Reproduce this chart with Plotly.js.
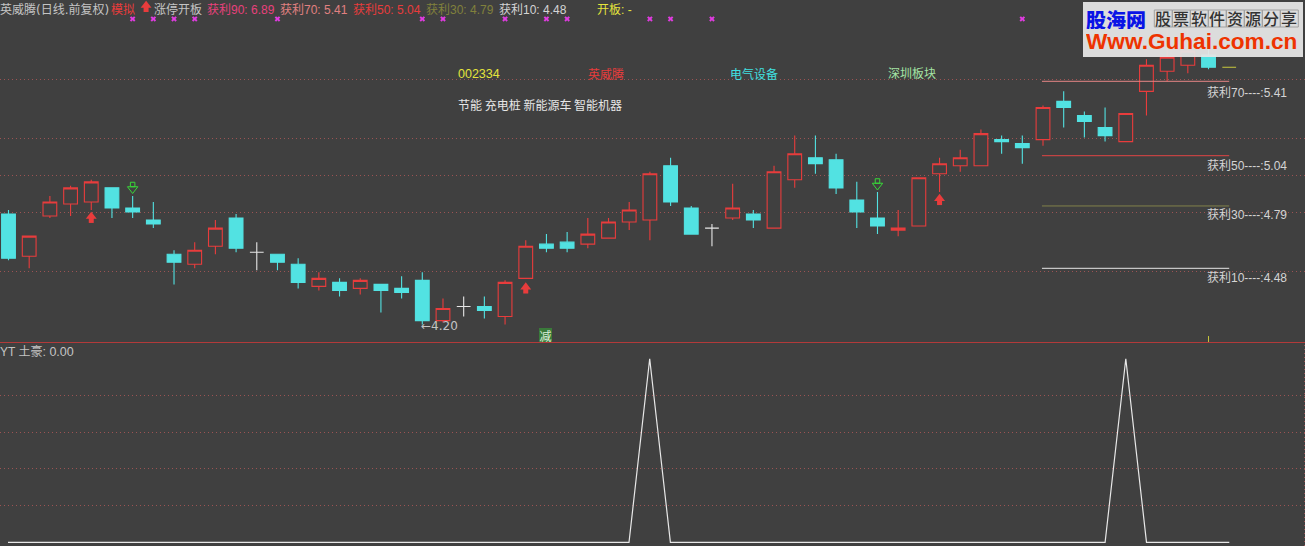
<!DOCTYPE html>
<html><head><meta charset="utf-8">
<script src="https://cdn.plot.ly/plotly-3.0.1.min.js"></script>
<style>html,body{margin:0;padding:0;background:#404040;overflow:hidden}#c{width:1305px;height:546px}</style>
</head><body><div id="c"></div>
<script>
// ---- data ----
const upIdx   =[1,2,3,4,9,10,15,17,21,24,25,28,29,30,31,35,37,38,43,44,45,46,47,50,54,55,56,57];
const upOpen  =[4.54,4.74,4.80,4.81,4.50,4.59,4.39,4.38,4.22,4.24,4.43,4.60,4.63,4.71,4.72,4.73,4.68,4.92,4.67,4.69,4.95,4.99,4.99,5.12,5.11,5.36,5.46,5.49];
const upHigh  =[4.64,4.84,4.89,4.92,4.61,4.72,4.46,4.43,4.33,4.42,4.62,4.73,4.73,4.81,4.96,4.90,4.99,5.14,4.77,4.93,5.03,5.07,5.17,5.29,5.25,5.52,5.67,5.67];
const upLow   =[4.48,4.73,4.74,4.77,4.48,4.55,4.37,4.35,4.21,4.20,4.43,4.58,4.63,4.67,4.62,4.72,4.68,4.88,4.64,4.69,4.86,4.96,4.99,5.09,5.11,5.24,5.41,5.45];
const upClose =[4.64,4.81,4.88,4.91,4.57,4.68,4.43,4.42,4.28,4.41,4.59,4.65,4.71,4.77,4.95,4.78,4.96,5.05,4.68,4.93,5.00,5.03,5.15,5.28,5.25,5.49,5.53,5.56];

const downIdx  =[0,5,6,7,8,11,13,14,16,18,19,20,23,26,27,32,33,36,39,40,41,42,48,49,51,52,53,58];
const downOpen =[4.75,4.88,4.78,4.72,4.55,4.73,4.55,4.50,4.41,4.40,4.38,4.42,4.29,4.60,4.61,4.99,4.78,4.75,5.03,5.02,4.82,4.73,5.12,5.10,5.31,5.24,5.18,5.54];
const downHigh =[4.77,4.88,4.84,4.81,4.57,4.75,4.55,4.53,4.43,4.40,4.44,4.46,4.34,4.65,4.66,5.03,4.79,4.77,5.14,5.05,4.91,4.86,5.14,5.14,5.36,5.26,5.28,5.57];
const downLow  =[4.52,4.73,4.73,4.68,4.40,4.56,4.47,4.38,4.34,4.26,4.33,4.20,4.23,4.56,4.56,4.79,4.65,4.68,4.95,4.85,4.68,4.65,5.05,5.00,5.18,5.13,5.11,5.47];
const downClose=[4.53,4.78,4.76,4.70,4.51,4.58,4.51,4.41,4.37,4.37,4.36,4.22,4.27,4.58,4.58,4.81,4.65,4.72,5.00,4.88,4.76,4.69,5.11,5.08,5.28,5.21,5.14,5.48];

const dojiIdx  =[12,22,34];
const dojiPrice=[4.56,4.29,4.68];
const dojiHigh =[4.61,4.34,4.70];
const dojiLow  =[4.47,4.24,4.59];

const lastIdx=[59], lastPrice=[5.48];

const priceGrid=[5.418,5.124,4.94,4.756,4.462];
const subGrid=[20,40,60,80];

const profitX=[49.95,59];
const profit70=[5.41,5.41], profit50=[5.04,5.04], profit30=[4.79,4.79], profit10=[4.48,4.48];

const buyIdx=[4,25,45,6.65], buyHead=[4.738,4.387,4.827,5.787], buyStem=[4.718,4.367,4.807,5.767];
const sellIdx=[6,42], sellHead=[4.8744,4.8918], sellStem=[4.8967,4.9142];
const markIdx=[6,7,8,9,13,20,21,24,26,27,31,32,34,49], markPrice=[5.72,5.72,5.72,5.72,5.72,5.72,5.72,5.72,5.72,5.72,5.72,5.72,5.72,5.72];
const tickIdx=[58,58], tickPrice=[4.143,4.113];

const ytIdx=[0,30,31,32,53,54,55,59];
const ytVal=[0,0,100,0,0,100,0,0];

// ---- axis scale ----
const PW=1305,PH=546,SPLIT=343;
const BG='#404040', RED='#e83c3c', CYAN='#52e2e2', GRID='#9c5353', GREEN='#38d838';
const hist=(x,o,h,l,c,up,down,fill)=>({type:'candlestick',x,open:o,high:h,low:l,close:c,xaxis:'x',yaxis:'y',
  whiskerwidth:0,
  increasing:{line:{color:up,width:1.1},fillcolor:fill},
  decreasing:{line:{color:down,width:1.1},fillcolor:down},hoverinfo:'skip',showlegend:false});
const line=(x,y,color,w,ax)=>({type:'scatter',mode:'lines',x,y,line:{color,width:w},xaxis:ax?'x2':'x',yaxis:ax?'y2':'y',hoverinfo:'skip',showlegend:false});
const mark=(x,y,marker)=>({type:'scatter',mode:'markers',x,y,marker,xaxis:'x',yaxis:'y',hoverinfo:'skip',showlegend:false});

const traces=[
 hist(upIdx,upOpen,upHigh,upLow,upClose,RED,RED,BG),
 hist(downIdx,downOpen,downHigh,downLow,downClose,CYAN,CYAN,CYAN),
 hist(dojiIdx,dojiPrice,dojiHigh,dojiLow,dojiPrice,'#e6e6e6','#e6e6e6','#e6e6e6'),
 hist(lastIdx,lastPrice,lastPrice,lastPrice,lastPrice,'#c8c83c','#c8c83c','#c8c83c'),
 line(profitX,profit70,'#e68585',1),
 line(profitX,profit50,'#e04444',1),
 line(profitX,profit30,'#80804a',1),
 line(profitX,profit10,'#e6e6e6',1),
 line(tickIdx,tickPrice,'#c8c83c',1),
 mark(buyIdx,buyStem,{symbol:'square',size:5,color:RED,line:{width:0}}),
 mark(buyIdx,buyHead,{symbol:'triangle-up',size:9.5,color:RED,line:{width:0}}),
 mark(sellIdx,sellStem,{symbol:'square-open',size:4.5,color:GREEN,line:{width:1,color:GREEN}}),
 mark(sellIdx,sellHead,{symbol:'triangle-down-open',size:9,color:GREEN,line:{width:1,color:GREEN}}),
 mark(markIdx,markPrice,{symbol:'x',size:5,color:'#e03ce0',line:{width:0}}),
 line(ytIdx,ytVal,'#e8e8e8',1.2,true)
];

// ---- text and furniture ----
const px=x=>x/PW, py=y=>1-y/PH;
const FONT='"DejaVu Sans","Noto Sans CJK SC",sans-serif', CJK='"Noto Sans CJK SC",sans-serif';
const L=(s,size)=>`<span style="font-family:'Liberation Sans';font-size:${size}px">${s}</span>`;
const T=(text,x,y,color,o={})=>Object.assign({text,xref:'paper',yref:'paper',x:px(x),y:py(y),xanchor:'left',yanchor:'middle',
  showarrow:false,borderpad:0,borderwidth:0,font:{family:FONT,size:12,color}},o);
const ann=[
 T('英威腾(日线.前复权)',0,9.5,'#c4c4c4'),
 T('模拟',111,9.5,'#e83c3c'),
 T('涨停开板',154,9.5,'#c4c4c4'),
 T('获利'+L('90: 6.89',12),207,9.5,'#e8407c'),
 T('获利'+L('70: 5.41',12),280,9.5,'#e08080'),
 T('获利'+L('50: 5.04',12),353,9.5,'#e83c3c'),
 T('获利'+L('30: 4.79',12),426,9.5,'#80803c'),
 T('获利'+L('10: 4.48',12),499,9.5,'#d4d4d4'),
 T('开板'+L(': -',12),597,9.5,'#e4e43c'),
 T(L('002334',12.5),458,74.5,'#e4e43c'),
 T('英威腾',588,74.5,'#e83c3c'),
 T('电气设备',730,74.5,'#40e0e0'),
 T('深圳板块',888,74.5,'#a4e4a4'),
 T('节能 充电桩 新能源车 智能机器',458,105,'#e6e6e6',{font:{family:CJK,size:12,color:'#e6e6e6'}}),
 T('←4.20',421,325.5,'#c4c4c4'),
 T('减',539,335,'#dcf0dc',{bgcolor:'#3a7a3a',width:13,height:14,align:'center',font:{family:CJK,size:12,color:'#dcf0dc'}}),
 T('YT 土豪'+L(': 0.00',12.5),0,351.5,'#c4c4c4',{font:{family:'"Liberation Sans","Noto Sans CJK SC",sans-serif',size:12,color:'#c4c4c4'}}),
 T('获利'+L('70----:5.41',12),1207,92.5,'#d4d4d4'),
 T('获利'+L('50----:5.04',12),1207,165.5,'#d4d4d4'),
 T('获利'+L('30----:4.79',12),1207,215,'#d4d4d4'),
 T('获利'+L('10----:4.48',12),1207,277.5,'#d4d4d4'),
 T('股海网',1086,19,'#0a14e6',{height:20,font:{family:CJK,size:20,weight:900,color:'#0a14e6'}}),
 T('Www.Guhai.com.cn',1086,41.5,'#ee3300',{height:18,font:{family:'Liberation Sans',size:22.6,weight:700,color:'#ee3300'}})
];
const cells='股票软件资源分享'.split('');
const shapes=[
 {type:'line',xref:'paper',yref:'paper',x0:0,x1:1,y0:py(342.5),y1:py(342.5),line:{color:'#b23a3a',width:1}},
 {type:'line',xref:'paper',yref:'paper',x0:px(1304.5),x1:px(1304.5),y0:0,y1:py(343),line:{color:GRID,width:1,dash:'1px,3px'}},
 {type:'rect',xref:'paper',yref:'paper',x0:px(1083),x1:px(1303),y0:py(2),y1:py(57),fillcolor:'#e6e6e6',opacity:0.94,line:{width:0}}
];
cells.forEach((c,k)=>{
  const x=1154.3+18*k;
  shapes.push({type:'rect',xref:'paper',yref:'paper',x0:px(x),x1:px(x+18),y0:py(10),y1:py(27),line:{color:'#a0a0a0',width:1},fillcolor:'rgba(0,0,0,0)'});
  ann.push(T(c,x+9,18.5,'#333',{xanchor:'center',font:{family:CJK,size:16,weight:500,color:'#333333'}}));
});

const hiddenX=(off,step)=>({range:[-off/step,(PW-off)/step],domain:[0,1],visible:false,fixedrange:true,rangeslider:{visible:false},showgrid:false,zeroline:false});
const yAx=(domain,range,vals)=>({domain,range,tickmode:'array',tickvals:vals,showticklabels:false,ticks:'',showgrid:true,gridcolor:GRID,gridwidth:1,griddash:'1px,3px',zeroline:false,showline:false,fixedrange:true});
const split=(PH-SPLIT)/PH;
const layout={width:PW,height:PH,margin:{l:0,r:0,t:0,b:0,pad:0},paper_bgcolor:BG,plot_bgcolor:BG,showlegend:false,hovermode:false,boxgap:0.05,
 xaxis:hiddenX(8.5,20.69),xaxis2:Object.assign(hiddenX(8,20.7),{anchor:'y2'}),
 yaxis:yAx([split,1],[4.1085,5.8143],priceGrid),
 yaxis2:yAx([0,split],[-1.94,108.6],subGrid),
 annotations:ann,shapes};
layout.yaxis2.anchor='x2';
Plotly.newPlot('c',traces,layout,{displayModeBar:false,staticPlot:true});
</script></body></html>
